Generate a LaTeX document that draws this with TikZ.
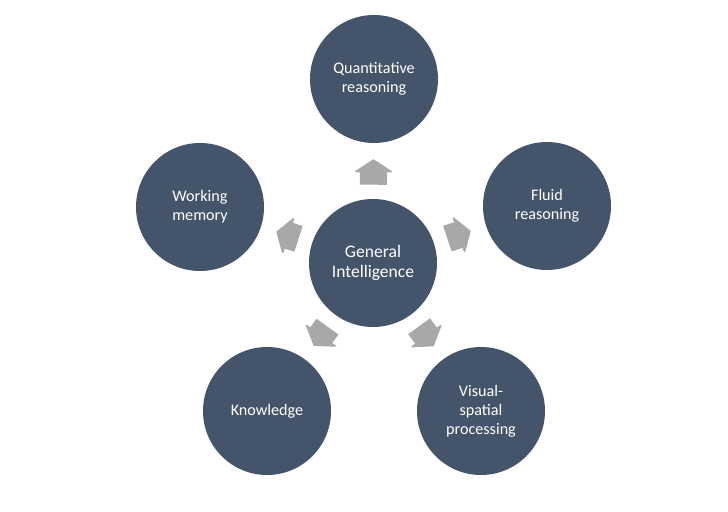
\documentclass[tikz,border=0pt]{standalone}
\usepackage{fontspec}
\setmainfont{Carlito}
\usepackage{xcolor}
\usepackage{tikz}
\usetikzlibrary{arrows.meta}
\definecolor{slate}{HTML}{44546A}
\definecolor{arrowgray}{HTML}{A8A8A8}

\begin{document}
\begin{tikzpicture}[
    bubble/.style={circle,fill=slate,text=white,minimum size=3.2cm,inner sep=0pt,
        align=center,font=\fontsize{11.5}{13.5}\selectfont},
    pointer/.style={draw=arrowgray,line width=0.675cm,
        -{Triangle[width=1cm,length=0.33cm,line width=1pt,round]},
        shorten <=0.35cm,shorten >=0.4cm}]
        \useasboundingbox (0,0) rectangle (18.2,12.775);
        % Centre
        \node[bubble,font=\fontsize{12.5}{14.5}\selectfont] (gi) at (9.325,6.2) {General\\Intelligence};
        % Outer ring
        \node[bubble] (qr) at (9.35,10.8) {Quantitative\\reasoning};
        \node[bubble] (fr) at (13.675,7.625) {Fluid\\reasoning};
        \node[bubble] (vs) at (12.025,2.5) {Visual-\\spatial\\processing};
        \node[bubble] (kn) at (6.675,2.5) {Knowledge};
        \node[bubble] (wm) at (5.0,7.6) {Working\\memory};
        % Arrows
        \draw[pointer] (gi) -- (qr);
        \draw[pointer] (gi) -- (fr);
        \draw[pointer] (gi) -- (vs);
        \draw[pointer] (gi) -- (kn);
        \draw[pointer] (gi) -- (wm);
    \end{tikzpicture}
\end{document}
